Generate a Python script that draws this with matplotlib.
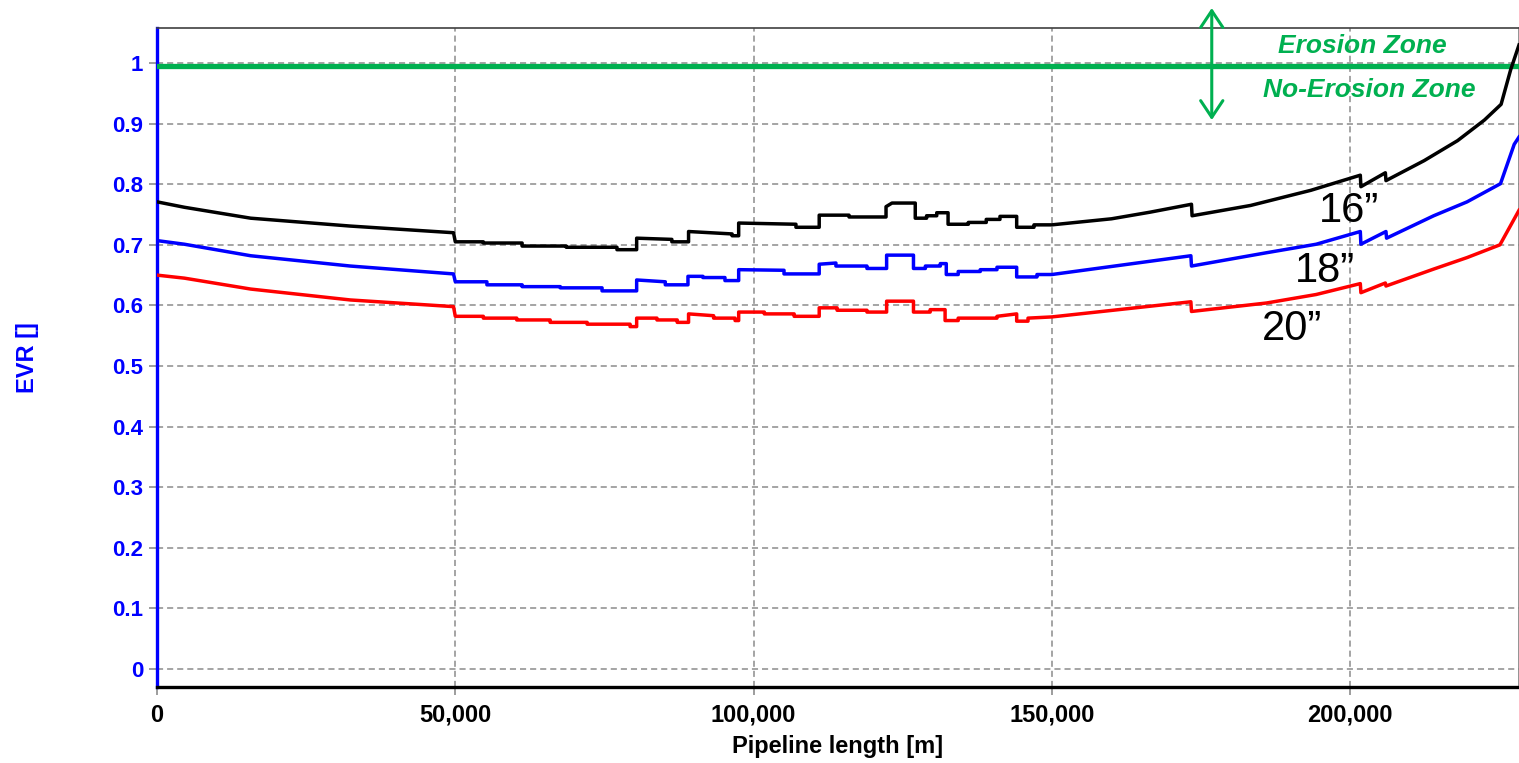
import matplotlib.pyplot as plt
from matplotlib.ticker import FuncFormatter

plt.rcParams['font.family'] = ['Liberation Sans', 'DejaVu Sans']

# EVR along the pipeline for three pipe sizes (vertices)
x16 = [0, 4600, 15700, 32400, 49700, 50000, 54700, 54700, 61200, 61200, 68600, 68600,
       77100, 77100, 80400, 80400, 86300, 86300, 89100, 89100, 96400, 96400, 97500,
       97500, 107100, 107100, 111000, 111000, 116000, 116000, 122200, 122200, 123200,
       127100, 127100, 129000, 129000, 130700, 130700, 132600, 132600, 136000, 136000,
       139000, 139000, 141300, 141300, 144100, 144100, 147000, 147000, 150000, 160000,
       166500, 173400, 173500, 183300, 193400, 201700, 201800, 205900, 206000, 212400,
       218000, 222500, 225300, 226900, 228300]
y16 = [0.771, 0.762, 0.744, 0.731, 0.720, 0.705, 0.705, 0.703, 0.703, 0.698, 0.698, 0.696,
       0.696, 0.692, 0.692, 0.711, 0.709, 0.705, 0.705, 0.722, 0.718, 0.715, 0.715,
       0.736, 0.734, 0.729, 0.729, 0.749, 0.749, 0.746, 0.746, 0.763, 0.769,
       0.769, 0.744, 0.744, 0.748, 0.748, 0.753, 0.753, 0.734, 0.734, 0.737,
       0.737, 0.742, 0.742, 0.747, 0.747, 0.729, 0.729, 0.733, 0.733, 0.743,
       0.754, 0.767, 0.748, 0.765, 0.790, 0.815, 0.796, 0.819, 0.806, 0.839,
       0.872, 0.906, 0.932, 0.989, 1.030]

x18 = [0, 4600, 15700, 32400, 49700, 50000, 55300, 55300, 61200, 61200, 67600, 67600,
       74600, 74600, 80400, 80400, 85200, 85200, 89000, 89000, 91500, 91500, 95200,
       95200, 97500, 97500, 105100, 105100, 111000, 111000, 113800, 113800, 119000,
       119000, 122300, 122300, 126800, 126800, 128800, 128800, 131300, 131300, 132300,
       132300, 134300, 134300, 138000, 138000, 140800, 140800, 144100, 144100, 147500,
       147500, 150000, 173300, 173400, 186000, 194300, 201700, 201800, 206000, 206100,
       214000, 219600, 225200, 227500, 228300]
y18 = [0.707, 0.701, 0.682, 0.665, 0.652, 0.639, 0.639, 0.634, 0.634, 0.631, 0.631, 0.629,
       0.629, 0.624, 0.624, 0.642, 0.639, 0.634, 0.634, 0.648, 0.648, 0.646, 0.646,
       0.641, 0.641, 0.659, 0.658, 0.652, 0.652, 0.668, 0.670, 0.665, 0.665,
       0.661, 0.661, 0.683, 0.683, 0.661, 0.661, 0.665, 0.665, 0.669, 0.669,
       0.651, 0.651, 0.656, 0.656, 0.659, 0.659, 0.663, 0.663, 0.647, 0.647,
       0.651, 0.651, 0.682, 0.665, 0.687, 0.701, 0.722, 0.701, 0.722, 0.711,
       0.748, 0.771, 0.801, 0.866, 0.878]

x20 = [0, 4600, 15700, 32400, 49700, 50000, 54700, 54700, 60300, 60300, 65900, 65900,
       72100, 72100, 79300, 79300, 80400, 80400, 83800, 83800, 87200, 87200, 89100,
       89100, 93300, 93300, 96900, 96900, 97500, 97500, 101800, 101800, 106800, 106800,
       111000, 111000, 114000, 114000, 119000, 119000, 122300, 122300, 126800, 126800,
       129600, 129600, 132100, 132100, 134300, 134300, 140800, 140800, 144100, 144100,
       146000, 146000, 150000, 173300, 173400, 186000, 194300, 201700, 201800, 205900,
       206000, 214000, 219600, 225100, 228300]
y20 = [0.650, 0.645, 0.627, 0.609, 0.598, 0.582, 0.582, 0.579, 0.579, 0.576, 0.576, 0.572,
       0.572, 0.569, 0.569, 0.565, 0.565, 0.579, 0.579, 0.576, 0.576, 0.572, 0.572,
       0.586, 0.583, 0.579, 0.579, 0.575, 0.575, 0.589, 0.589, 0.586, 0.586, 0.582,
       0.582, 0.596, 0.596, 0.592, 0.592, 0.589, 0.589, 0.607, 0.607, 0.589,
       0.589, 0.593, 0.593, 0.575, 0.575, 0.579, 0.579, 0.582, 0.586, 0.574,
       0.574, 0.579, 0.581, 0.606, 0.590, 0.604, 0.618, 0.636, 0.621, 0.637,
       0.632, 0.660, 0.679, 0.700, 0.757]

limit_evr = 0.995          # erosion limit line
arrow_x = 176800
arrow_top, arrow_bottom = 1.091, 0.906

xticks = [0, 50000, 100000, 150000, 200000]
yticks = [0, 0.1, 0.2, 0.3, 0.4, 0.5, 0.6, 0.7, 0.8, 0.9, 1]

green = '#00b050'

fig = plt.figure(figsize=(15.19, 7.63), dpi=100)
ax = fig.add_axes([157/1519, 76/763, 1362/1519, 659/763])

ax.plot(x16, y16, color='black', lw=2.5, zorder=4)
ax.plot(x18, y18, color='#0000ff', lw=2.5, zorder=4)
ax.plot(x20, y20, color='#ff0000', lw=2.5, zorder=4)
ax.axhline(limit_evr, color=green, lw=3.8, zorder=3)

ax.annotate('', xy=(arrow_x, arrow_top), xytext=(arrow_x, arrow_bottom),
            annotation_clip=False,
            arrowprops=dict(arrowstyle='<->,head_length=0.6,head_width=0.4',
                            mutation_scale=20, color=green, lw=2.2,
                            shrinkA=0, shrinkB=0))
ax.text(202060, 1.0165, 'Erosion Zone', color=green, fontsize=19,
        fontweight='bold', fontstyle='italic', ha='center', va='baseline')
ax.text(203150, 0.944, 'No-Erosion Zone', color=green, fontsize=19,
        fontweight='bold', fontstyle='italic', ha='center', va='baseline')

ax.text(199800, 0.7376, '16\u201d', fontsize=30, ha='center', va='baseline')
ax.text(195800, 0.6386, '18\u201d', fontsize=30, ha='center', va='baseline')
ax.text(190250, 0.543, '20\u201d', fontsize=30, ha='center', va='baseline')

ax.set_xlim(0, 228300)
ax.set_ylim(-0.03, 1.058)
ax.set_xticks(xticks)
ax.set_yticks(yticks)
ax.xaxis.set_major_formatter(FuncFormatter(lambda v, p: f'{int(v):,}'))
ax.yaxis.set_major_formatter(FuncFormatter(lambda v, p: f'{v:g}'))

ax.grid(True, color='#8c8c8c', lw=1.1, linestyle=(0, (4, 2.6)), zorder=1)
ax.set_axisbelow(True)

ax.tick_params(axis='y', colors='#8c8c8c', labelcolor='#0000ff', labelsize=16,
               length=6, width=1.2, pad=4)
ax.tick_params(axis='x', colors='#8c8c8c', labelcolor='black', labelsize=17,
               length=6, width=1.2, pad=6)
for lab in ax.get_xticklabels() + ax.get_yticklabels():
    lab.set_fontweight('bold')

ax.spines['left'].set_color('#0000ff')
ax.spines['left'].set_linewidth(2.4)
ax.spines['bottom'].set_color('black')
ax.spines['bottom'].set_linewidth(2.4)
ax.spines['top'].set_color('#404040')
ax.spines['top'].set_linewidth(1.2)
ax.spines['right'].set_color('#808080')
ax.spines['right'].set_linewidth(1.2)

ax.set_xlabel('Pipeline length [m]', fontsize=17, fontweight='bold', labelpad=6)
ax.set_ylabel('EVR []', fontsize=17, fontweight='bold', color='#0000ff')
ax.yaxis.set_label_coords(-0.0866, 0.5)

fig.savefig('out.png', dpi=100)
